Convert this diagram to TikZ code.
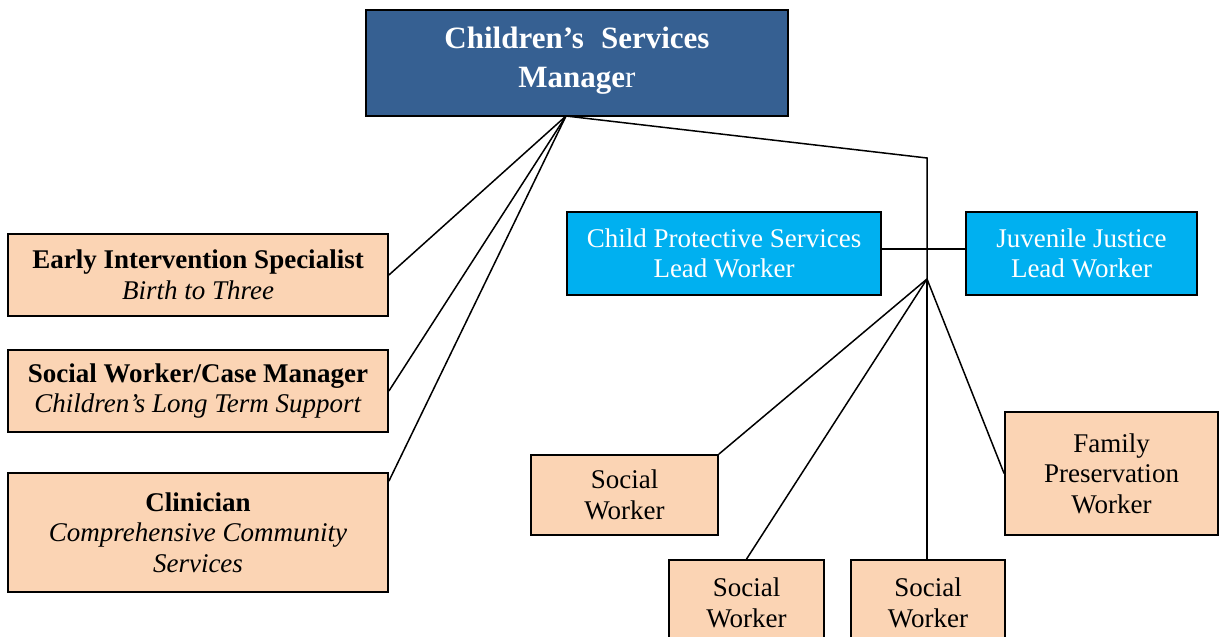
\documentclass[tikz,border=0pt]{standalone}
\usepackage{fontspec}
\setmainfont{Liberation Serif}
\usetikzlibrary{calc}
\definecolor{mgrblue}{HTML}{366092}
\definecolor{leadblue}{HTML}{00B0F0}
\definecolor{peach}{HTML}{FBD4B4}
\tikzset{
  box/.style={draw=black, line width=1.8pt, inner sep=0pt, align=center,
    font=\fontsize{27}{30.5}\selectfont},
  peachbox/.style={box, fill=peach, text=black},
  leadbox/.style={box, fill=leadblue, text=white},
  mgrbox/.style={box, fill=mgrblue, text=white,
    font=\fontsize{31}{39}\selectfont\bfseries},
  link/.style={draw=black, line width=1.5pt}
}
\begin{document}
\begin{tikzpicture}[x=1pt,y=-1pt]
\useasboundingbox (0,0) rectangle (1219,637);
% nodes
\node[mgrbox, minimum width=422pt, minimum height=106pt] (mgr) at (577,63)
  {Children’s\hspace{0.55em}Services\\ Manage{\mdseries r}\strut};
\node[peachbox, minimum width=380pt, minimum height=82pt] (ei) at (198,275)
  {\textbf{Early Intervention Specialist}\\ \textit{Birth to Three}};
\node[peachbox, minimum width=380pt, minimum height=82pt] (swcm) at (198,391)
  {\textbf{Social Worker/Case Manager}\\ \textit{Children’s Long Term Support}};
\node[peachbox, minimum width=380pt, minimum height=119pt] (clin) at (198,532.5)
  {\textbf{Clinician}\\ \textit{Comprehensive Community}\\ \textit{Services}};
\node[leadbox, minimum width=314pt, minimum height=83pt] (cps) at (724,253.5)
  {Child Protective Services\\ Lead Worker};
\node[leadbox, minimum width=231pt, minimum height=83pt] (jj) at (1081.5,253.5)
  {Juvenile Justice\\ Lead Worker};
\node[peachbox, minimum width=187pt, minimum height=80pt] (sw1) at (624.5,495)
  {Social\\ Worker};
\node[peachbox, minimum width=155pt, minimum height=86pt] (sw2) at (746.5,603)
  {Social\\ Worker};
\node[peachbox, minimum width=154pt, minimum height=86pt] (sw3) at (928,603)
  {Social\\ Worker};
\node[peachbox, minimum width=213pt, minimum height=123pt] (fpw) at (1111.5,473.5)
  {Family\\ Preservation\\ Worker};
% coordinates
\coordinate (m) at (566,116);
\coordinate (bend) at (927,158);
\coordinate (hub) at (927,279);
% connectors
\draw[link] (m) -- (ei.east);
\draw[link] (m) -- (swcm.east);
\draw[link] (m) -- ([yshift=-9pt]clin.north east);
\draw[link] (m) -- (bend) -- (hub);
\draw[link] ([yshift=4.5pt]cps.east) -- ([yshift=4.5pt]jj.west);
\draw[link] (hub) -- (sw1.north east);
\draw[link] (hub) -- (sw2.north);
\draw[link] (hub) -- (sw3.north -| hub);
\draw[link] (hub) -- (fpw.west);
\end{tikzpicture}
\end{document}
